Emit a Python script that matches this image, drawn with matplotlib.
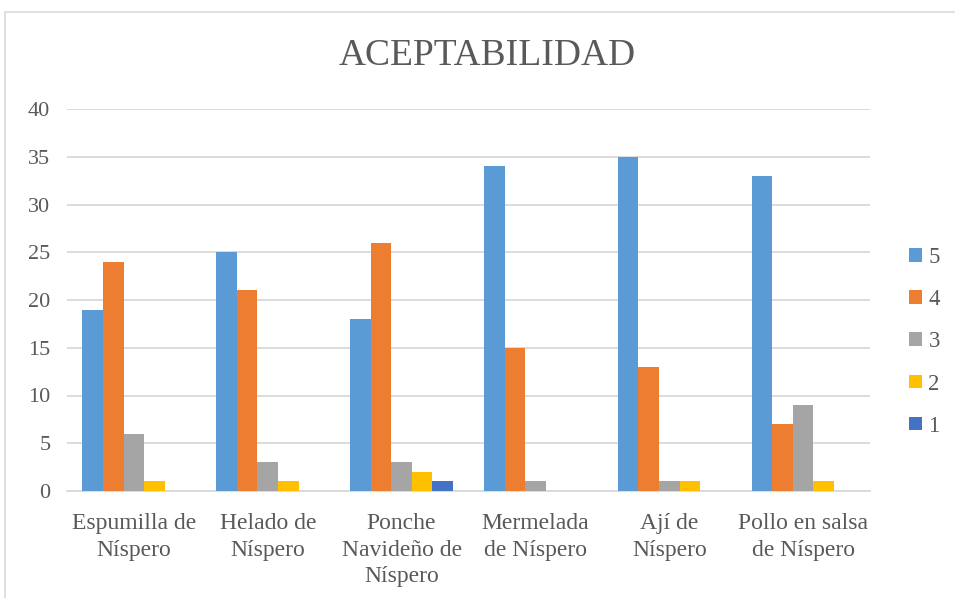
import matplotlib
matplotlib.use("Agg")
import matplotlib.pyplot as plt
import numpy as np
from matplotlib.patches import Rectangle

categories = ["Espumilla de\nNíspero", "Helado de\nNíspero", "Ponche\nNavideño de\nNíspero",
              "Mermelada\nde Níspero", "Ají de\nNíspero", "Pollo en salsa\nde Níspero"]
series_names = ["5", "4", "3", "2", "1"]
v5 = [19, 25, 18, 34, 35, 33]
v4 = [24, 21, 26, 15, 13, 7]
v3 = [6, 3, 3, 1, 1, 9]
v2 = [1, 1, 2, 0, 1, 1]
v1 = [0, 0, 1, 0, 0, 0]
yticks = [0, 5, 10, 15, 20, 25, 30, 35, 40]
colors = ["#5B9BD5", "#ED7D31", "#A5A5A5", "#FFC000", "#4472C4"]

plt.rcParams['font.family'] = ['Liberation Serif', 'DejaVu Serif']
txt = "#595959"

fig = plt.figure(figsize=(9.55, 5.98), dpi=100)
W, H = 955, 598
ax = fig.add_axes([67 / W, 1 - 491 / H, (870 - 67) / W, (491 - 109) / H])

x = np.arange(len(categories))
bw = 1 / 6.5
data = [v5, v4, v3, v2, v1]
for i, (name, vals, c) in enumerate(zip(series_names, data, colors)):
    ax.bar(x + (i - 2) * bw, vals, width=bw, color=c, label=name, zorder=3)

ax.set_xlim(-0.5, len(categories) - 0.5)
ax.set_ylim(0, 40)
ax.set_yticks(yticks)
ax.set_yticklabels([str(t) for t in yticks], fontsize=16, color=txt)
ax.set_xticks(x)
ax.set_xticklabels(categories, fontsize=17, color=txt, linespacing=1.33)
ax.tick_params(axis='both', length=0)
ax.tick_params(axis='y', pad=12)
ax.tick_params(axis='x', pad=16)
ax.grid(axis='y', color="#D9D9D9", linewidth=1.3, zorder=0)
for s in ["top", "right", "left"]:
    ax.spines[s].set_visible(False)
ax.spines["bottom"].set_color("#D9D9D9")
ax.spines["bottom"].set_linewidth(1.3)

fig.text(487 / W, 1 - 56 / H, "ACEPTABILIDAD", fontsize=27, color=txt, ha='center', va='center')

leg = fig.legend(loc='center left', bbox_to_anchor=(909 / W, 1 - 342 / H), frameon=False,
                 fontsize=16.5, labelcolor=txt, handlelength=0.55, handleheight=0.55,
                 handletextpad=0.3, labelspacing=0.92, borderpad=0, borderaxespad=0)

fig.patches.append(Rectangle((5 / W, -0.02), 1.1, 1 - 12 / H + 0.02, transform=fig.transFigure,
                             fill=False, edgecolor="#D9D9D9", linewidth=1.2))

fig.savefig("out.png", dpi=100)
